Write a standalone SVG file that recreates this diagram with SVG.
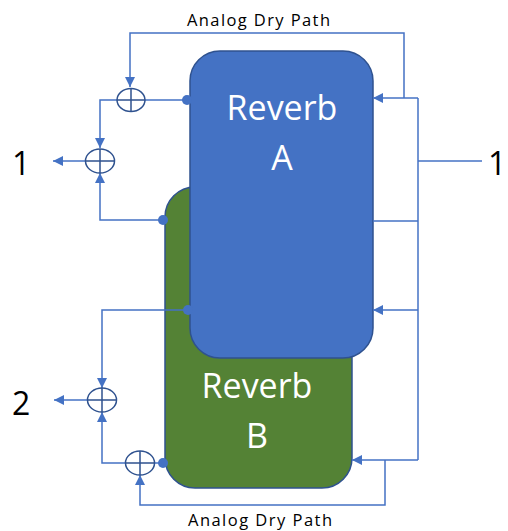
<svg xmlns="http://www.w3.org/2000/svg" width="508" height="531" viewBox="0 0 508 531">
<style>
.ln{fill:none;stroke:#4472C4;stroke-width:1.5}
.sum{fill:#fff;stroke:#2F528F;stroke-width:1.5}
.dot{fill:#4472C4}
.lbl{font-family:"Open Sans","Liberation Sans",Arial,sans-serif;fill:#000}
.rv{font-family:"Open Sans","Liberation Sans",Arial,sans-serif;fill:#fff;font-size:34px;text-anchor:middle}
</style>
<defs>
<marker id="ah" viewBox="0 0 10 10" refX="10" refY="5" markerWidth="10" markerHeight="10" markerUnits="userSpaceOnUse" orient="auto">
<path d="M0,0 L10,5 L0,10 z" fill="#4472C4"/>
</marker>
</defs>
<g id="reverbB">
<rect x="165" y="187" width="187" height="301" rx="30" fill="#548235" stroke="#2F528F" stroke-width="1.5"/>
<text class="rv" x="257" y="398">Reverb</text>
<text class="rv" x="257" y="448">B</text>
</g>
<g id="reverbA">
<rect x="190" y="51" width="183" height="307" rx="30" fill="#4472C4" stroke="#2F528F" stroke-width="1.5"/>
<text class="rv" x="282" y="120">Reverb</text>
<text class="rv" x="282" y="170">A</text>
</g>
<g id="connectors">
<path class="ln" d="M404,98 V33 H130 V87" marker-end="url(#ah)"/>
<path class="ln" d="M418,98 H373" marker-end="url(#ah)"/>
<path class="ln" d="M418,310 H373" marker-end="url(#ah)"/>
<path class="ln" d="M418,221 H373"/>
<path class="ln" d="M418,98 V460"/>
<path class="ln" d="M418,161 H482"/>
<path class="ln" d="M145,100 H187"/>
<circle class="dot" cx="187" cy="100" r="5"/>
<path class="ln" d="M117,100 H100 V148" marker-end="url(#ah)"/>
<path class="ln" d="M86,161 H53" marker-end="url(#ah)"/>
<path class="ln" d="M163,220 H100 V173" marker-end="url(#ah)"/>
<circle class="dot" cx="163" cy="220" r="5"/>
<path class="ln" d="M188,310 H102 V388" marker-end="url(#ah)"/>
<circle class="dot" cx="188" cy="310" r="5"/>
<path class="ln" d="M88,400 H54" marker-end="url(#ah)"/>
<path class="ln" d="M126,463 H102 V412" marker-end="url(#ah)"/>
<path class="ln" d="M154,463 H163"/>
<circle class="dot" cx="163" cy="463" r="5"/>
<path class="ln" d="M418,460 H352" marker-end="url(#ah)"/>
<path class="ln" d="M385,460 V505 H140 V475" marker-end="url(#ah)"/>
</g>
<g id="sum1">
<ellipse class="sum" cx="131" cy="100" rx="14" ry="11.5"/>
<path class="ln" style="stroke:#2F528F" d="M117,100 H145 M131,88.5 V111.5"/>
</g>
<g id="sum2">
<ellipse class="sum" cx="100" cy="161" rx="14.5" ry="12"/>
<path class="ln" style="stroke:#2F528F" d="M85.5,161 H114.5 M100,149 V173"/>
</g>
<g id="sum3">
<ellipse class="sum" cx="102" cy="400" rx="14.5" ry="12"/>
<path class="ln" style="stroke:#2F528F" d="M87.5,400 H116.5 M102,388 V412"/>
</g>
<g id="sum4">
<ellipse class="sum" cx="140" cy="463" rx="14.5" ry="12"/>
<path class="ln" style="stroke:#2F528F" d="M125.5,463 H154.5 M140,451 V475"/>
</g>
<text class="lbl" x="187" y="26" font-size="16.5" textLength="143">Analog Dry Path</text>
<text class="lbl" x="188" y="526" font-size="16.5" textLength="144">Analog Dry Path</text>
<text class="lbl" x="12" y="175" font-size="32">1</text>
<text class="lbl" x="488" y="175" font-size="32">1</text>
<text class="lbl" x="12" y="415" font-size="32">2</text>
</svg>
